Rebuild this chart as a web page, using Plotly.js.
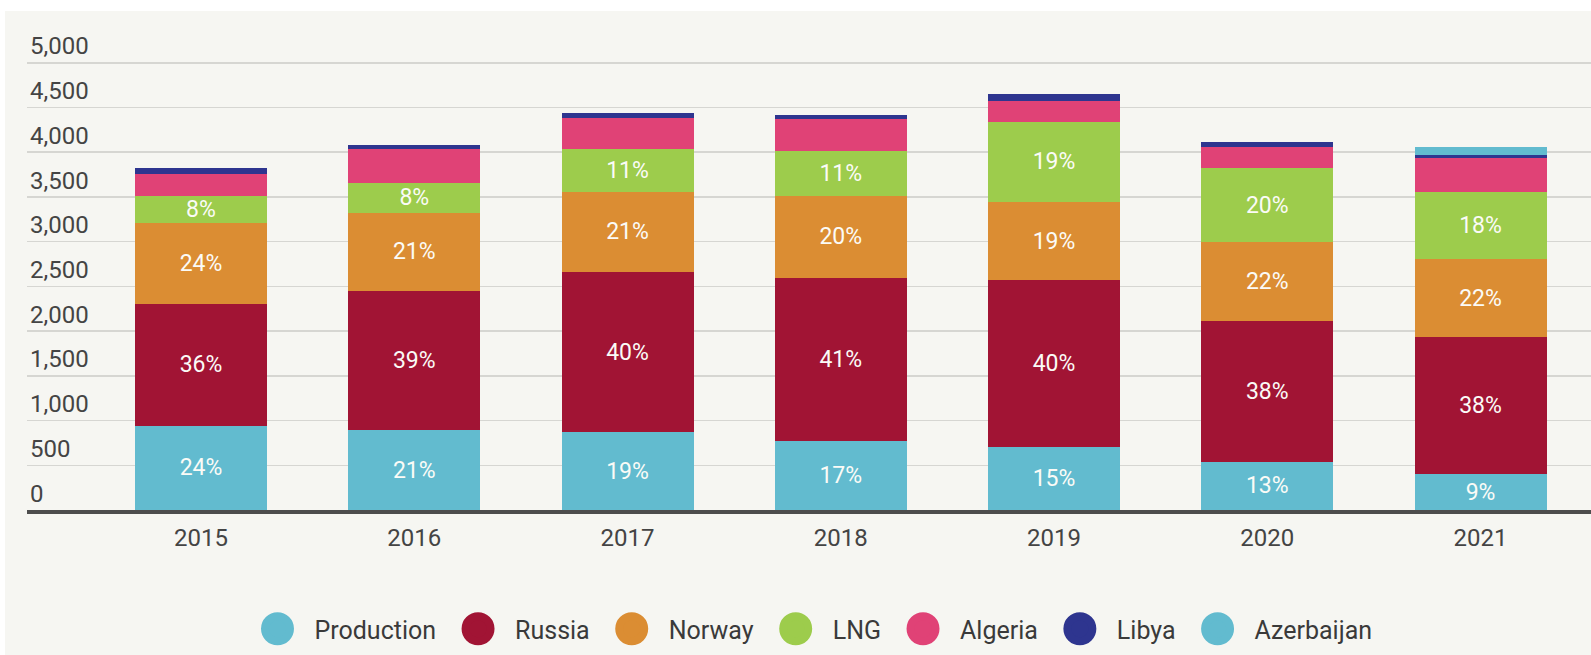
<!DOCTYPE html>
<html>
<head>
<meta charset="utf-8">
<script src="https://cdn.plot.ly/plotly-3.0.1.min.js"></script>
<style>
  html, body { margin: 0; padding: 0; background: #ffffff; }
  #chart { position: absolute; left: 5px; top: 11px; width: 1586px; height: 644px; }
</style>
</head>
<body>
<div id="chart"></div>
<script>
const years = ['2015', '2016', '2017', '2018', '2019', '2020', '2021'];

const production = [940, 891, 869, 772, 701, 537, 397];
const russia     = [1368, 1562, 1793, 1823, 1871, 1581, 1532];
const norway     = [899, 872, 898, 917, 870, 877, 878];
const lng        = [305, 329, 474, 500, 900, 828, 753];
const algeria    = [246, 380, 350, 358, 235, 235, 380];
const libya      = [64, 51, 53, 48, 75, 56, 30];
const azerbaijan = [0, 0, 0, 0, 0, 0, 93];

const productionPct = ['24%', '21%', '19%', '17%', '15%', '13%', '9%'];
const russiaPct     = ['36%', '39%', '40%', '41%', '40%', '38%', '38%'];
const norwayPct     = ['24%', '21%', '21%', '20%', '19%', '22%', '22%'];
const lngPct        = ['8%', '8%', '11%', '11%', '19%', '20%', '18%'];

const yTicks = [0, 500, 1000, 1500, 2000, 2500, 3000, 3500, 4000, 4500, 5000];

const seriesNames = ['Production', 'Russia', 'Norway', 'LNG', 'Algeria', 'Libya', 'Azerbaijan'];
const seriesColors = ['#62bbcf', '#a11434', '#db8d33', '#9dcc4c', '#e04276', '#2e358f', '#62bbcf'];
const seriesValues = [production, russia, norway, lng, algeria, libya, azerbaijan];
const seriesText = [productionPct, russiaPct, norwayPct, lngPct, null, null, null];

const FONT = 'Roboto, "Liberation Sans", sans-serif';

const traces = [];
seriesNames.forEach((name, i) => {
  const t = {
    type: 'bar',
    name: name,
    x: years,
    y: seriesValues[i],
    marker: { color: seriesColors[i], line: { width: 0 } },
    showlegend: false,
    hoverinfo: 'x+y+name'
  };
  if (seriesText[i]) {
    t.text = seriesText[i];
    t.textposition = 'inside';
    t.insidetextanchor = 'middle';
    t.textangle = 0;
    t.constraintext = 'none';
    t.textfont = { family: FONT, size: 23, color: '#fbfbf7' };
  } else {
    t.textposition = 'none';
  }
  traces.push(t);
});
// legend entries with circular symbols
seriesNames.forEach((name, i) => {
  traces.push({
    type: 'scatter',
    mode: 'markers',
    name: name,
    x: [null],
    y: [null],
    marker: { color: seriesColors[i], size: 16, symbol: 'circle', line: { color: seriesColors[i], width: 5 } },
    showlegend: true,
    hoverinfo: 'skip'
  });
});

const layout = {
  width: 1586,
  height: 644,
  paper_bgcolor: '#f6f6f2',
  plot_bgcolor: '#f6f6f2',
  margin: { l: 22, r: 0, t: 16, b: 145 },
  barmode: 'stack',
  bargap: 0.381,
  font: { family: FONT, color: '#444444', size: 24 },
  showlegend: true,
  legend: {
    orientation: 'h',
    x: 0.5,
    xanchor: 'center',
    y: -0.2464,
    yanchor: 'middle',
    font: { family: FONT, size: 25, color: '#3a3a3a' },
    bgcolor: 'rgba(0,0,0,0)',
    traceorder: 'normal',
    itemwidth: 64
  },
  xaxis: {
    type: 'category',
    range: [-0.816, 6.518],
    showgrid: false,
    zeroline: false,
    showline: true,
    linecolor: '#4d4d4d',
    linewidth: 3.5,
    ticks: '',
    tickfont: { family: FONT, size: 24, color: '#444444' },
    ticklabelstandoff: 4,
    fixedrange: true
  },
  yaxis: {
    range: [0, 5400],
    tickvals: yTicks,
    tickformat: ',',
    showgrid: true,
    gridcolor: '#d6d6d2',
    gridwidth: 1.5,
    zeroline: false,
    showline: false,
    ticks: '',
    ticklabelposition: 'inside top',
    tickfont: { family: FONT, size: 24, color: '#444444' },
    fixedrange: true
  }
};

Plotly.newPlot('chart', traces, layout, { displayModeBar: false, staticPlot: true }).then(gd => {
  gd.querySelectorAll('.legend path.scatterpts').forEach(p => {
    const tr = p.getAttribute('transform') || '';
    p.setAttribute('transform', tr + ' scale(1.57)');
  });
});
</script>
</body>
</html>
